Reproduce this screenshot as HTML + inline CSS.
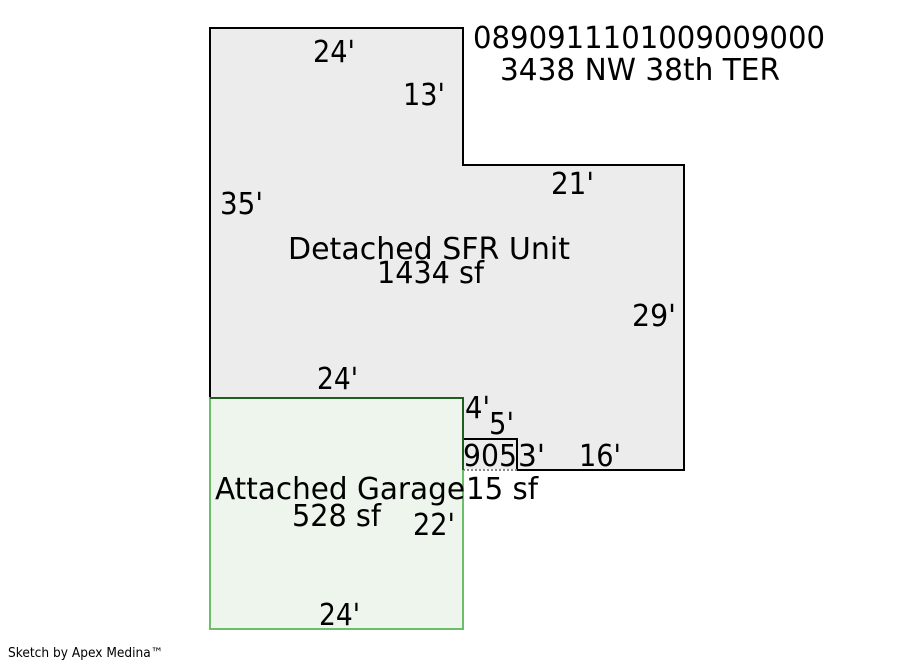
<!DOCTYPE html>
<html><head><meta charset="utf-8"><style>
html,body{margin:0;padding:0;background:#fff;width:900px;height:661px;overflow:hidden}
svg{display:block}
text{font-family:"DejaVu Sans","Liberation Sans",sans-serif;font-size:30px;fill:#000}
</style></head><body>
<svg width="900" height="661" viewBox="0 0 900 661">
<path d="M210,28 H463 V165 H684 V470 H517 V439 H463 V398 H210 Z" fill="#ececec" stroke="#000" stroke-width="2"/>
<rect x="463" y="439" width="54" height="31" fill="#ececec" stroke="#000" stroke-width="2"/>
<line x1="463" y1="470" x2="517" y2="470" stroke="#fff" stroke-width="2"/>
<line x1="463" y1="470" x2="517" y2="470" stroke="#888" stroke-width="2" stroke-dasharray="2,2"/>
<rect x="210" y="398" width="253" height="231" fill="#edf5ec" stroke="#6cbf6a" stroke-width="2"/>
<path d="M210,398 H463 V470" fill="none" stroke="#1f5e1f" stroke-width="2"/>
<text x="473" y="48" textLength="352" lengthAdjust="spacingAndGlyphs">0890911101009009000</text>
<text x="500" y="80" textLength="280" lengthAdjust="spacingAndGlyphs">3438 NW 38th TER</text>
<text x="313" y="62" textLength="42" lengthAdjust="spacingAndGlyphs">24'</text>
<text x="403" y="105" textLength="42" lengthAdjust="spacingAndGlyphs">13'</text>
<text x="551" y="194" textLength="43" lengthAdjust="spacingAndGlyphs">21'</text>
<text x="220" y="214" textLength="43" lengthAdjust="spacingAndGlyphs">35'</text>
<text x="288" y="259" textLength="282" lengthAdjust="spacingAndGlyphs">Detached SFR Unit</text>
<text x="377" y="283" textLength="107" lengthAdjust="spacingAndGlyphs">1434 sf</text>
<text x="632" y="326" textLength="44" lengthAdjust="spacingAndGlyphs">29'</text>
<text x="317" y="389" textLength="41" lengthAdjust="spacingAndGlyphs">24'</text>
<text x="465" y="418" textLength="25" lengthAdjust="spacingAndGlyphs">4'</text>
<text x="489" y="434" textLength="25" lengthAdjust="spacingAndGlyphs">5'</text>
<text x="463" y="466" textLength="54" lengthAdjust="spacingAndGlyphs">905</text>
<text x="518" y="466" textLength="27" lengthAdjust="spacingAndGlyphs">3'</text>
<text x="579" y="466" textLength="42" lengthAdjust="spacingAndGlyphs">16'</text>
<text x="215" y="499" textLength="250" lengthAdjust="spacingAndGlyphs">Attached Garage</text>
<text x="466" y="499" textLength="72" lengthAdjust="spacingAndGlyphs">15 sf</text>
<text x="292" y="526" textLength="89" lengthAdjust="spacingAndGlyphs">528 sf</text>
<text x="413" y="535" textLength="42" lengthAdjust="spacingAndGlyphs">22'</text>
<text x="319" y="625" textLength="41" lengthAdjust="spacingAndGlyphs">24'</text>
<text x="8" y="657" style="font-size:13px" textLength="155" lengthAdjust="spacingAndGlyphs">Sketch by Apex Medina™</text>
</svg>
</body></html>
